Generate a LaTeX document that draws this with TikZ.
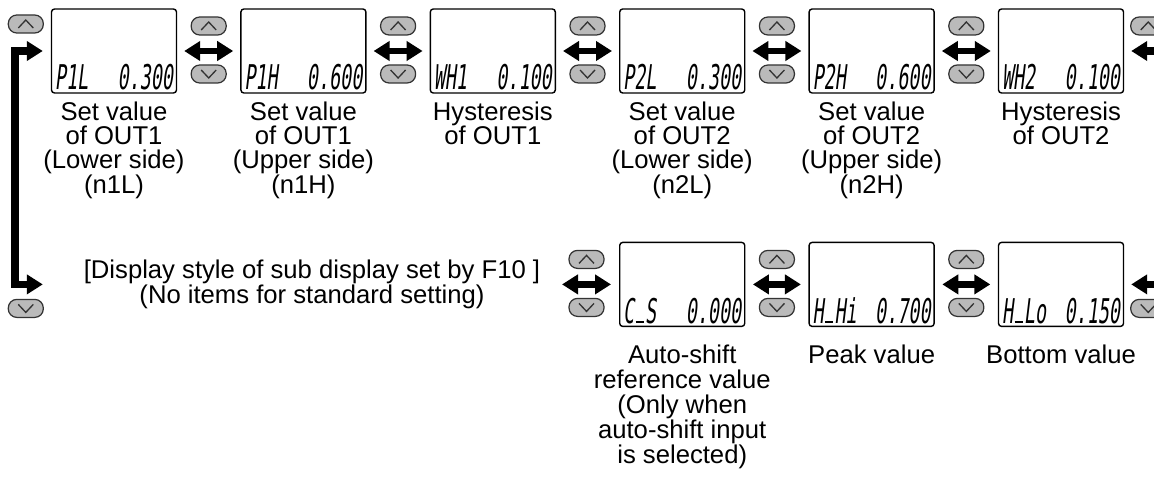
\documentclass[tikz,border=0pt]{standalone}
\usepackage{fontspec}
\setmainfont{Liberation Sans}
\newfontfamily\lcdfont[FakeSlant=0.12,FakeStretch=0.54]{DejaVu Sans Mono}
\newcommand{\lcdbar}{\makebox[0.216cm]{\rule{0.16cm}{0.045cm}}}
\usetikzlibrary{positioning,arrows.meta}

\begin{document}
\begin{tikzpicture}[
    font=\fontsize{14.6pt}{14.3pt}\selectfont,
    lcd/.style={
      draw, line width=0.8pt, rounded corners=0.06cm,
      minimum width=2.5cm, minimum height=1.68cm,   % <- one display window
      inner xsep=0.07cm, inner ysep=0.04cm,
      text height=1.58cm, text depth=0.02cm,
      font=\lcdfont\fontsize{19.4pt}{20pt}\selectfont
    },
    btn/.style={
      draw=black!80, fill=black!27, line width=0.7pt,
      rounded corners=0.17cm, minimum width=0.7cm, minimum height=0.36cm,
      inner sep=0pt
    },
    btnup/.style={btn, path picture={
      \draw[sharp corners, line width=0.75pt]
        ([xshift=-0.15cm,yshift=-0.08cm]path picture bounding box.center) --
        ([yshift=0.08cm]path picture bounding box.center) --
        ([xshift=0.15cm,yshift=-0.08cm]path picture bounding box.center);}},
    btndown/.style={btn, path picture={
      \draw[sharp corners, line width=0.75pt]
        ([xshift=-0.15cm,yshift=0.08cm]path picture bounding box.center) --
        ([yshift=-0.08cm]path picture bounding box.center) --
        ([xshift=0.15cm,yshift=0.08cm]path picture bounding box.center);}},
    dbl/.style={line width=3.8pt,
      {Triangle[length=0.32cm,width=0.38cm]}-{Triangle[length=0.32cm,width=0.38cm]}},
    loopline/.style={line width=4.3pt, line join=miter,
      {Triangle[length=0.32cm,width=0.38cm]}-{Triangle[length=0.32cm,width=0.38cm]}},
    desc/.style={align=center, inner sep=0pt},
    desctop/.style={desc, font=\fontsize{14.6pt}{13.9pt}\selectfont}
  ]

  \useasboundingbox (0,0) rectangle (23.08cm,-9.56cm);

% --- Upper row: OUT1 and OUT2 settings ---
  \node[lcd] (d1) at (2.28cm,-1.02cm) {\hbox to 2.36cm{P1L\hfill 0.300}};
  \node[lcd, right=1.26cm of d1] (d2) {\hbox to 2.36cm{P1H\hfill 0.600}};
  \node[lcd, right=1.26cm of d2] (d3) {\hbox to 2.36cm{WH1\hfill 0.100}};
  \node[lcd, right=1.26cm of d3] (d4) {\hbox to 2.36cm{P2L\hfill 0.300}};
  \node[lcd, right=1.26cm of d4] (d5) {\hbox to 2.36cm{P2H\hfill 0.600}};
  \node[lcd, right=1.26cm of d5] (d6) {\hbox to 2.36cm{WH2\hfill 0.100}};

  \node[desctop, below=0.15cm of d1] (t1) {Set value\\of OUT1\\(Lower side)\\(n1L)};
  \node[desctop, below=0.15cm of d2] (t2) {Set value\\of OUT1\\(Upper side)\\(n1H)};
  \node[desctop, below=0.15cm of d3] (t3) {Hysteresis\\of OUT1};
  \node[desctop, below=0.15cm of d4] (t4) {Set value\\of OUT2\\(Lower side)\\(n2L)};
  \node[desctop, below=0.15cm of d5] (t5) {Set value\\of OUT2\\(Upper side)\\(n2H)};
  \node[desctop, below=0.15cm of d6] (t6) {Hysteresis\\of OUT2};

% --- Lower row: sub display items ---
  \node[lcd, below=2.96cm of d4] (cs) {\hbox to 2.36cm{C\lcdbar S\hfill 0.000}};
  \node[lcd, below=2.96cm of d5] (hh) {\hbox to 2.36cm{H\lcdbar Hi\hfill 0.700}};
  \node[lcd, below=2.96cm of d6] (hl) {\hbox to 2.36cm{H\lcdbar Lo\hfill 0.150}};

  \node[desc, below=0.34cm of cs] (tcs) {Auto-shift\\reference value\\(Only when\\auto-shift input\\is selected)};
  \node[desc, below=0.34cm of hh] (thh) {Peak value};
  \node[desc, below=0.34cm of hl] (thl) {Bottom value};

  \node[desc] (note) at (6.24cm,0 |- cs.center)
    {[Display style of sub display set by F10 ]\\(No items for standard setting)};

% --- Up/down keys between displays ---
  \draw[dbl] ([xshift=0.14cm]d1.east) -- ([xshift=-0.14cm]d2.west);
  \draw[dbl] ([xshift=0.14cm]d2.east) -- ([xshift=-0.14cm]d3.west);
  \draw[dbl] ([xshift=0.14cm]d3.east) -- ([xshift=-0.14cm]d4.west);
  \draw[dbl] ([xshift=0.14cm]d4.east) -- ([xshift=-0.14cm]d5.west);
  \draw[dbl] ([xshift=0.14cm]d5.east) -- ([xshift=-0.14cm]d6.west);
  \path (d1.east) -- (d2.west) node[midway, btnup, yshift=0.5cm] (u12) {} node[midway, btndown, yshift=-0.46cm] (v12) {};
  \path (d2.east) -- (d3.west) node[midway, btnup, yshift=0.5cm] (u23) {} node[midway, btndown, yshift=-0.46cm] (v23) {};
  \path (d3.east) -- (d4.west) node[midway, btnup, yshift=0.5cm] (u34) {} node[midway, btndown, yshift=-0.46cm] (v34) {};
  \path (d4.east) -- (d5.west) node[midway, btnup, yshift=0.5cm] (u45) {} node[midway, btndown, yshift=-0.46cm] (v45) {};
  \path (d5.east) -- (d6.west) node[midway, btnup, yshift=0.5cm] (u56) {} node[midway, btndown, yshift=-0.46cm] (v56) {};

  \coordinate (csin) at ([xshift=-1.14cm]cs.west);
  \draw[dbl] (csin) -- ([xshift=-0.16cm]cs.west);
  \draw[dbl] ([xshift=0.15cm]cs.east) -- ([xshift=-0.15cm]hh.west);
  \draw[dbl] ([xshift=0.15cm]hh.east) -- ([xshift=-0.15cm]hl.west);
  \path (csin) -- ([xshift=-0.16cm]cs.west) node[midway, btnup, yshift=0.5cm] (ucs) {} node[midway, btndown, yshift=-0.46cm] (vcs) {};
  \path (cs.east) -- (hh.west) node[midway, btnup, yshift=0.5cm] (uhh) {} node[midway, btndown, yshift=-0.46cm] (vhh) {};
  \path (hh.east) -- (hl.west) node[midway, btnup, yshift=0.5cm] (uhl) {} node[midway, btndown, yshift=-0.46cm] (vhl) {};

% --- Return paths at both ends ---
  \coordinate (lend) at ([xshift=-0.16cm]d1.west |- cs.center);
  \coordinate (rend) at ([xshift=0.14cm]d6.east |- hl.center);
  \draw[loopline] ([xshift=-0.16cm]d1.west) -- ++(-0.56cm,0) |- (lend);
  \draw[loopline] ([xshift=0.14cm]d6.east) -- ++(0.56cm,0) |- (rend);

  \node[btnup] (ul) at ([xshift=-0.5cm,yshift=0.54cm]d1.west) {};
  \node[btndown] (vl) at ([xshift=-0.5cm,yshift=-0.48cm]d1.west |- cs.center) {};
  \node[btnup] (ur) at ([xshift=0.48cm,yshift=0.5cm]d6.east) {};
  \node[btndown] (vr) at ([xshift=0.48cm,yshift=-0.48cm]d6.east |- hl.center) {};

\end{tikzpicture}
\end{document}
